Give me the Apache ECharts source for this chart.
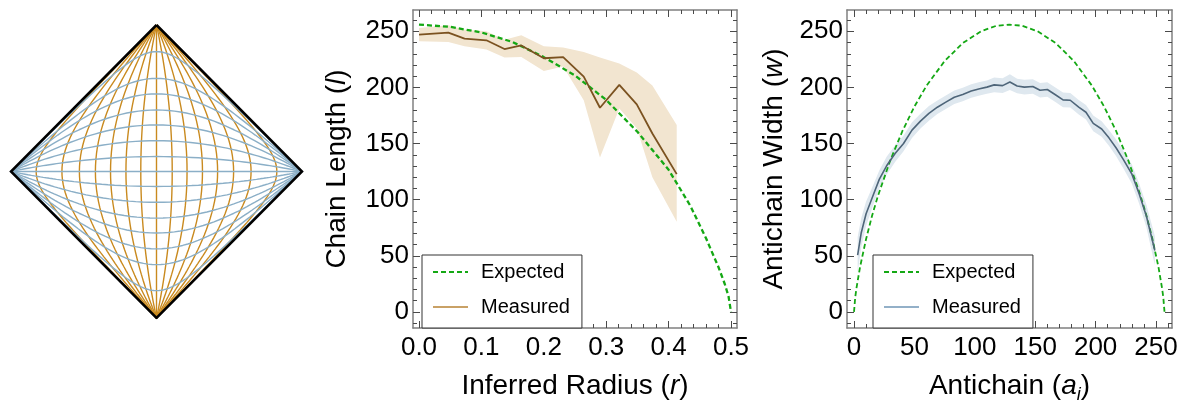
<!DOCTYPE html>
<html><head><meta charset="utf-8">
<script src="https://cdn.jsdelivr.net/npm/echarts@6/dist/echarts.min.js"></script>
<style>
html,body{margin:0;padding:0;background:#fff;}
.c{position:absolute;left:0;top:0;width:1184px;height:409px;}
</style>
</head><body>
<div id="diamond" class="c"></div>
<div id="chain" class="c"></div>
<div id="anti" class="c"></div>
<script>
// ---------------- data ----------------
// Left panel: diamond, curves identified by where they cross the midlines (normalised -1..1)
const diamondCorners = [[0, 1], [1, 0], [0, -1], [-1, 0], [0, 1]];
const worldlineCrossings = [-0.827, -0.65, -0.53, -0.42, -0.316, -0.21, -0.108, 0, 0.108, 0.21, 0.316, 0.42, 0.53, 0.65, 0.827];
const sliceCrossings = [-0.813, -0.636, -0.528, -0.42, -0.318, -0.21, -0.102, 0, 0.102, 0.21, 0.318, 0.42, 0.53, 0.636, 0.818];

// Middle panel: chain length vs inferred radius
const radiusMeasured = [0.0, 0.047, 0.073, 0.108, 0.137, 0.164, 0.2, 0.231, 0.264, 0.29, 0.321, 0.349, 0.374, 0.413];
const chainMeasured = [247, 248.8, 243.5, 242, 234.2, 237.4, 226, 227.1, 209.7, 181.9, 202.3, 184.9, 159, 122.8];
const chainUpper = [253, 255.5, 251.5, 250, 242.5, 246.5, 236.6, 235.6, 231.6, 226.6, 221.4, 213.4, 201.8, 166.6];
const chainLower = [241.1, 240.5, 236.6, 233.9, 226.6, 227.1, 214.7, 218.7, 188.6, 137.5, 181.3, 163.7, 119.9, 80.4];
const radiusExpected = [0, 0.05, 0.1, 0.15, 0.2, 0.25, 0.3, 0.35, 0.4, 0.435, 0.46, 0.48, 0.49, 0.496, 0.5];
const chainExpected = [256, 254, 249, 240.5, 227, 210.7, 188.9, 160.5, 126.7, 94.4, 65.6, 39.8, 24.9, 14, 0];
const radiusTicks = [0, 0.1, 0.2, 0.3, 0.4, 0.5];
const radiusMinorTicks = [0, 0.02, 0.04, 0.06, 0.08, 0.1, 0.12, 0.14, 0.16, 0.18, 0.2, 0.22, 0.24, 0.26, 0.28, 0.3, 0.32, 0.34, 0.36, 0.38, 0.4, 0.42, 0.44, 0.46, 0.48, 0.5];

// Right panel: antichain width vs antichain index
const antichainMeasured = [3, 6, 10, 16, 21, 27, 34, 41, 48, 55, 62, 69, 76, 83, 90, 97, 104, 110, 116, 123, 129, 135, 141, 148, 154, 160, 167, 173, 179, 186, 192, 198, 205, 211, 217, 223, 230, 236, 242, 249];
const widthMeasured = [50.7, 70.6, 87.5, 104.4, 118.3, 130.2, 141.1, 150.1, 162, 170, 176.9, 182.4, 186.9, 191.3, 193.8, 196.8, 198.8, 200.3, 202.3, 201.6, 204.8, 201.3, 200.3, 200.8, 197.5, 198.2, 193.3, 188.9, 188.6, 182.4, 177.9, 168, 163, 155.1, 146.1, 135.7, 122.8, 105.4, 85.5, 54.7];
const widthUpper = [66.7, 83.6, 98.5, 113.4, 126.3, 138.2, 148.6, 157.1, 169, 176.5, 183.4, 188.4, 192.9, 197.3, 199.8, 202.8, 204.8, 206.3, 208.8, 208.1, 211.8, 207.8, 206.8, 207.3, 204, 204.7, 199.8, 195.4, 195.1, 188.9, 184.4, 175, 170, 162.1, 153.6, 143.7, 131.3, 114.4, 95.5, 67.7];
const widthLower = [34.7, 57.6, 76.5, 95.4, 110.3, 122.2, 133.6, 143.1, 155, 163.5, 170.4, 176.4, 180.9, 185.3, 187.8, 190.8, 192.8, 194.3, 195.8, 195.1, 197.8, 194.8, 193.8, 194.3, 191, 191.7, 186.8, 182.4, 182.1, 175.9, 171.4, 161, 156, 148.1, 138.6, 127.7, 114.3, 96.4, 75.5, 41.7];
const antichainExpected = [0, 1, 2, 5, 10, 15, 20, 30, 40, 50, 60, 75, 90, 105, 118, 128.5, 139, 152, 167, 182, 197, 207, 217, 227, 237, 242, 247, 252, 255, 256, 257];
const widthExpected = [0, 13, 21, 40, 65, 86, 104, 135, 161, 183, 201.5, 223.5, 239.5, 250, 255, 256, 255, 250, 239.5, 223.5, 201.5, 183, 161, 135, 104, 86, 65, 40, 21, 13, 0];
const antichainTicks = [0, 50, 100, 150, 200, 250];
const antichainMinorTicks = [0, 10, 20, 30, 40, 50, 60, 70, 80, 90, 100, 110, 120, 130, 140, 150, 160, 170, 180, 190, 200, 210, 220, 230, 240, 250, 260];

const valueTicks = [0, 50, 100, 150, 200, 250];
const valueMinorTicks = [-10, 0, 10, 20, 30, 40, 50, 60, 70, 80, 90, 100, 110, 120, 130, 140, 150, 160, 170, 180, 190, 200, 210, 220, 230, 240, 250, 260];

// ---------------- styling ----------------
const FONT = '"Liberation Sans", Arial, sans-serif';
const FRAME = '#808080';
const TICK = '#4a4a4a';
const GREEN = '#14a814';
const BROWN = '#7b5220';
const TAN = '#f2e5d0';
const SLATE = '#4e6579';
const ICE = '#dfe8ef';

function zip(xs, ys) { return xs.map((x, i) => [x, ys[i]]); }

function bandSeries(xs, hi, lo, color) {
  return {
    type: 'custom', silent: true, clip: true, z: 1,
    data: [[xs[0], lo[0]]],
    renderItem: function (params, api) {
      const top = xs.map((x, i) => api.coord([x, hi[i]]));
      const bottom = xs.map((x, i) => api.coord([x, lo[i]])).reverse();
      return { type: 'polygon', shape: { points: top.concat(bottom) }, style: { fill: color } };
    }
  };
}

function frameAxes(dim, min, max, major, minor, fmt, name, nameGap, labelMargin) {
  const sides = dim === 'x' ? ['bottom', 'top'] : ['left', 'right'];
  const base = { type: 'value', min: min, max: max, gridIndex: 0, splitLine: { show: false }, scale: false };
  const nameStyle = {
    fontSize: 28, fontFamily: FONT, color: '#000', lineHeight: 36,
    rich: {
      i: { fontStyle: 'italic', fontSize: 28, fontFamily: FONT, color: '#000', lineHeight: 36 },
      s: { fontStyle: 'italic', fontSize: 18, fontFamily: FONT, color: '#000', lineHeight: 18, verticalAlign: 'bottom' }
    }
  };
  const out = [];
  sides.forEach((side, k) => {
    out.push(Object.assign({}, base, {
      position: side,
      axisLine: { show: true, onZero: false, lineStyle: { color: FRAME, width: 1.5 } },
      axisTick: { show: true, inside: true, length: 7, customValues: major, lineStyle: { color: TICK, width: 1 } },
      axisLabel: k === 0 ? { show: true, customValues: major, formatter: fmt, margin: labelMargin, fontSize: 26, fontFamily: FONT, color: '#000' } : { show: false },
      name: k === 0 ? name : '',
      nameLocation: 'middle', nameGap: nameGap, nameTextStyle: nameStyle
    }));
    out.push(Object.assign({}, base, {
      position: side,
      axisLine: { show: false, onZero: false },
      axisTick: { show: true, inside: true, length: 4, customValues: minor, lineStyle: { color: TICK, width: 1 } },
      axisLabel: { show: false }
    }));
  });
  return out;
}

function legendFor(left, measuredColor) {
  return {
    orient: 'vertical', left: left, top: 255, padding: [7, 12, 11, 10],
    itemWidth: 35, itemHeight: 14, itemGap: 15,
    borderColor: '#333', borderWidth: 1, backgroundColor: '#fff',
    selectedMode: false,
    textStyle: { fontSize: 20, fontFamily: FONT, color: '#000', padding: [0, 0, 0, 8] },
    data: [
      { name: 'Expected', itemStyle: { opacity: 0 }, lineStyle: { color: GREEN, width: 2, type: [5, 3] } },
      { name: 'Measured', itemStyle: { opacity: 0 }, lineStyle: { color: measuredColor, width: 2 } }
    ]
  };
}

// ---------------- left: diamond ----------------
function worldline(c) {
  const s = Math.atanh(c), pts = [];
  for (let k = -180; k <= 180; k++) {
    const tau = k * 0.05, v = Math.tanh(tau + s), u = Math.tanh(tau - s);
    pts.push([(v - u) / 2, (v + u) / 2]);
  }
  return pts;
}
function timeSlice(c) {
  const t0 = Math.atanh(c), pts = [];
  for (let k = -180; k <= 180; k++) {
    const s = k * 0.05, v = Math.tanh(t0 + s), u = Math.tanh(t0 - s);
    pts.push([(v - u) / 2, (v + u) / 2]);
  }
  return pts;
}
const dSeries = [];
worldlineCrossings.forEach(c => dSeries.push({ type: 'line', data: worldline(c), symbol: 'none', silent: true, lineStyle: { color: '#c98a1f', width: 1.4 } }));
sliceCrossings.forEach(c => dSeries.push({ type: 'line', data: timeSlice(c), symbol: 'none', silent: true, lineStyle: { color: '#8bafc7', width: 1.4 } }));
dSeries.push({ type: 'line', data: diamondCorners, symbol: 'none', silent: true, lineStyle: { color: '#000', width: 2.5, join: 'miter' } });
echarts.init(document.getElementById('diamond'), null, { renderer: 'canvas' }).setOption({
  animation: false,
  grid: { left: 11, top: 25, width: 291, height: 293 },
  xAxis: { type: 'value', min: -1, max: 1, show: false },
  yAxis: { type: 'value', min: -1, max: 1, show: false },
  series: dSeries
});

// ---------------- middle: chain length ----------------
echarts.init(document.getElementById('chain')).setOption({
  animation: false,
  grid: { left: 413, top: 10, width: 324, height: 323 },
  xAxis: frameAxes('x', -0.0096, 0.5096, radiusTicks, radiusMinorTicks, v => v.toFixed(1), 'Inferred Radius ({i|r})', 40, 7),
  yAxis: frameAxes('y', -14.3, 269, valueTicks, valueMinorTicks, v => String(v), 'Chain Length ({i|l})', 58, 4),
  legend: legendFor(422, '#c9a166'),
  series: [
    bandSeries(radiusMeasured, chainUpper, chainLower, TAN),
    { name: 'Expected', type: 'line', z: 3, data: zip(radiusExpected, chainExpected), symbol: 'none', silent: true, lineStyle: { color: GREEN, width: 2.3, type: [5, 3] } },
    { name: 'Measured', type: 'line', z: 4, data: zip(radiusMeasured, chainMeasured), symbol: 'none', silent: true, lineStyle: { color: BROWN, width: 1.8 } }
  ]
});

// ---------------- right: antichain width ----------------
echarts.init(document.getElementById('anti')).setOption({
  animation: false,
  grid: { left: 847, top: 10, width: 325, height: 323 },
  xAxis: frameAxes('x', -5.8, 263.2, antichainTicks, antichainMinorTicks, v => String(v), 'Antichain ({i|a}{s|i})', 40, 7),
  yAxis: frameAxes('y', -14.3, 269, valueTicks, valueMinorTicks, v => String(v), 'Antichain Width ({i|w})', 55, 4),
  legend: legendFor(873, '#93b0c8'),
  series: [
    bandSeries(antichainMeasured, widthUpper, widthLower, ICE),
    { name: 'Expected', type: 'line', z: 3, data: zip(antichainExpected, widthExpected), symbol: 'none', silent: true, lineStyle: { color: GREEN, width: 1.8, type: [5, 3] } },
    { name: 'Measured', type: 'line', z: 4, data: zip(antichainMeasured, widthMeasured), symbol: 'none', silent: true, lineStyle: { color: SLATE, width: 1.6 } }
  ]
});
</script>
</body></html>
